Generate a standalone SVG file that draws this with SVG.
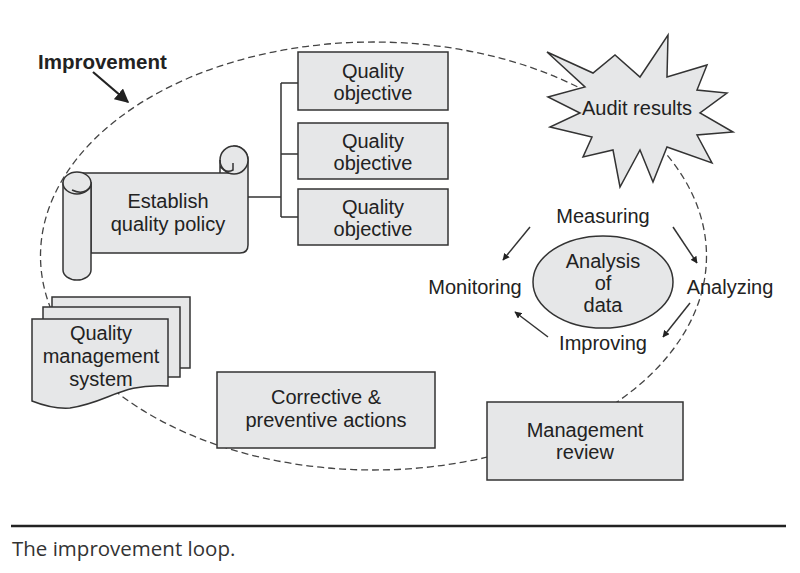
<svg xmlns="http://www.w3.org/2000/svg" width="800" height="573" viewBox="0 0 800 573">
<style>
.box{fill:#e6e7e8;stroke:#333;stroke-width:1.5}
.t{font-family:"Liberation Sans",Arial,sans-serif;font-size:20px;fill:#222;text-anchor:middle}
.ln{fill:none;stroke:#333;stroke-width:1.5}
.ar{fill:none;stroke:#333;stroke-width:1.5;marker-end:url(#ah)}
</style>
<defs>
<marker id="ah" viewBox="0 0 10 10" refX="9" refY="5" markerWidth="7" markerHeight="7" markerUnits="userSpaceOnUse" orient="auto">
<path d="M0,0 L10,5 L0,10 z" fill="#222"/>
</marker>
<marker id="ahb" viewBox="0 0 10 10" refX="9" refY="5" markerWidth="14" markerHeight="14" markerUnits="userSpaceOnUse" orient="auto">
<path d="M0,0 L10,5 L0,10 z" fill="#222"/>
</marker>
</defs>
<rect width="800" height="573" fill="#fff"/>
<ellipse id="loop" cx="373.5" cy="256" rx="333" ry="214" fill="none" stroke="#444" stroke-width="1.3" stroke-dasharray="7,4"/>

<g id="connectors">
<path class="ln" d="M248,197 H281 M281,83 V217 M281,83 H298 M281,154 H298 M281,217 H298"/>
<line x1="93" y1="72" x2="128" y2="102" stroke="#222" stroke-width="2.2" marker-end="url(#ahb)"/>
<line class="ar" x1="530" y1="227" x2="503" y2="260"/>
<line class="ar" x1="673" y1="227" x2="697" y2="263"/>
<line class="ar" x1="690" y1="303" x2="663" y2="337"/>
<line class="ar" x1="548" y1="337" x2="515" y2="312"/>
</g>

<g id="label-improvement">
<text x="38" y="69" style="font-family:'Liberation Sans',Arial,sans-serif;font-size:20.5px;font-weight:bold;fill:#222">Improvement</text>
</g>

<g id="policy">
<path class="box" d="M77,173 H234 V146 A14,14 0 0 1 248,160 V245 Q248,253 240,253 H91 V183 Z"/>
<circle class="box" cx="234" cy="160" r="14"/>
<path class="ln" d="M220,160 V173 M220,166 Q226,174 233,170 V163"/>
<path class="box" d="M63,183 V270 A14,10 0 0 0 91,270 V183 Z"/>
<ellipse class="box" cx="77" cy="183" rx="14" ry="11"/>
<path class="ln" d="M91,186 Q84,196 72,190"/>
<text class="t" x="168" y="208">Establish</text>
<text class="t" x="168" y="231">quality policy</text>
</g>

<g id="obj1">
<rect class="box" x="298" y="52" width="150" height="58"/>
<text class="t" x="373" y="78">Quality</text>
<text class="t" x="373" y="100">objective</text>
</g>
<g id="obj2">
<rect class="box" x="298" y="123" width="150" height="56"/>
<text class="t" x="373" y="148">Quality</text>
<text class="t" x="373" y="170">objective</text>
</g>
<g id="obj3">
<rect class="box" x="298" y="189" width="150" height="56"/>
<text class="t" x="373" y="214">Quality</text>
<text class="t" x="373" y="236">objective</text>
</g>

<g id="audit">
<polygon class="box" points="547,52 593,73 615,55 640,77 668,35 667,77 707,65 697,90 727,93 700,113 733,132 697,135 712,163 667,147 653,182 640,150 620,187 613,150 583,157 592,137 550,127 580,113 548,97 585,87"/>
<text class="t" x="637" y="115">Audit results</text>
</g>

<g id="analysis">
<ellipse class="box" cx="603" cy="282" rx="70" ry="46"/>
<text class="t" x="603" y="268">Analysis</text>
<text class="t" x="603" y="290">of</text>
<text class="t" x="603" y="312">data</text>
</g>
<g id="measuring"><text class="t" x="603" y="223">Measuring</text></g>
<g id="monitoring"><text class="t" x="475" y="294">Monitoring</text></g>
<g id="analyzing"><text class="t" x="730" y="294">Analyzing</text></g>
<g id="improving"><text class="t" x="603" y="350">Improving</text></g>

<g id="qms">
<rect class="box" x="52" y="297" width="138" height="71"/>
<rect class="box" x="43" y="307" width="137" height="70"/>
<path class="box" d="M32,319 H168 V386 C120,383 110,402 70,408 C55,409 42,405 32,401 Z"/>
<text class="t" x="101" y="340">Quality</text>
<text class="t" x="101" y="363">management</text>
<text class="t" x="101" y="386">system</text>
</g>

<g id="corrective">
<rect class="box" x="217" y="372" width="218" height="76"/>
<text class="t" x="326" y="404">Corrective &amp;</text>
<text class="t" x="326" y="427">preventive actions</text>
</g>

<g id="review">
<rect class="box" x="487" y="402" width="196" height="78"/>
<text class="t" x="585" y="437">Management</text>
<text class="t" x="585" y="459">review</text>
</g>

<line x1="11" y1="526" x2="786" y2="526" stroke="#222" stroke-width="2.5"/>
<text x="12" y="556" style="font-family:'Open Sans','Noto Sans',sans-serif;font-size:20.5px;fill:#333">The improvement loop.</text>
</svg>
